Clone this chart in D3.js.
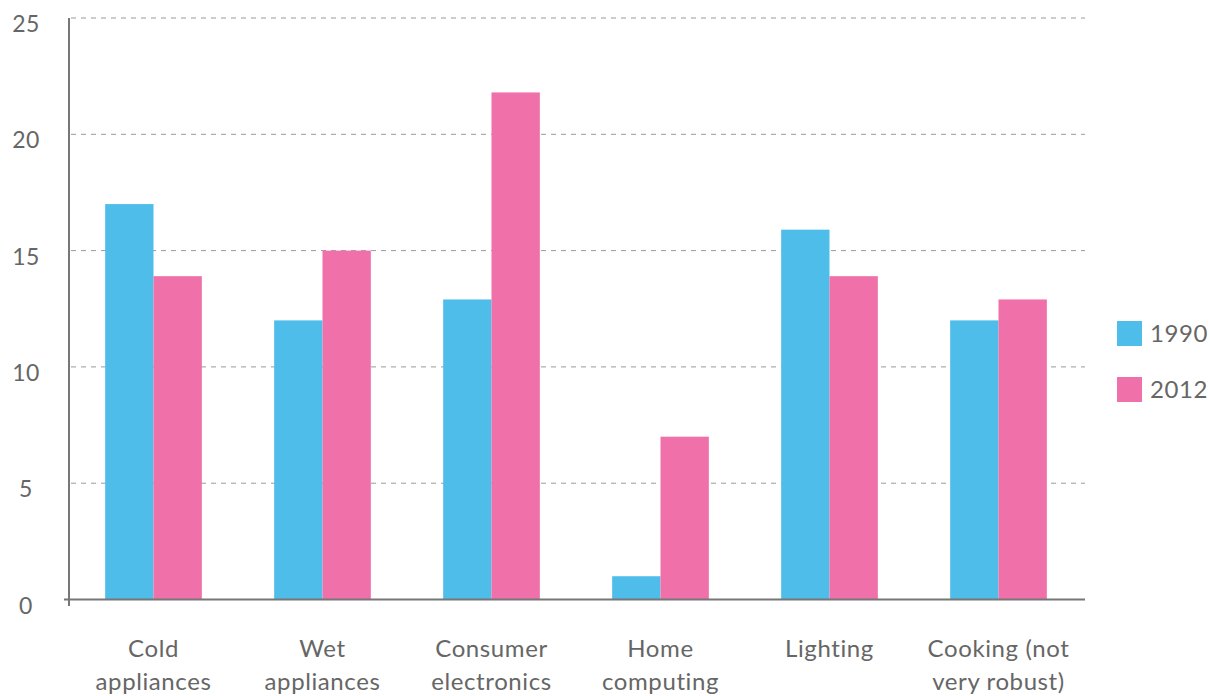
<!DOCTYPE html>
<html><head><meta charset="utf-8">
<script src="https://cdn.jsdelivr.net/npm/d3@7"></script>
<style>body{margin:0;background:#fff;} text{font-family:Lato,"Open Sans",sans-serif;fill:#666;}</style>
</head><body><svg id="c" width="1210" height="696"></svg>
<script>
const categories = [["Cold","appliances"],["Wet","appliances"],["Consumer","electronics"],["Home","computing"],["Lighting"],["Cooking (not","very robust)"]];
const series = ["1990","2012"];
const values1990 = [17, 12, 12.9, 1, 15.9, 12];
const values2012 = [13.9, 15, 21.8, 7, 13.9, 12.9];
const yTicks = [0,5,10,15,20,25];
const colors = ["#4fbdea","#f070a9"];

const svg = d3.select("#c");
const L=69, R=1083, T=18, B=599.5;
const keys = categories.map(c=>c.join(" "));
const x0 = d3.scaleBand().domain(keys).range([L,R]).paddingInner(0.428).paddingOuter(0.214);
const x1 = d3.scaleBand().domain(series).range([0,x0.bandwidth()]);
const y = d3.scaleLinear().domain([0,25]).range([B,T]);
const data = [values1990, values2012];

// grid
svg.append("g").selectAll("line").data(yTicks.filter(d=>d>0)).join("line")
  .attr("x1",L+2).attr("x2",1085).attr("y1",d=>y(d)).attr("y2",d=>y(d))
  .attr("stroke","#9a9a9a").attr("stroke-width",1).attr("stroke-dasharray","5,5");

// bars
const g = svg.append("g");
keys.forEach((k,i)=>{
  series.forEach((s,j)=>{
    g.append("rect").attr("x",x0(k)+x1(s)).attr("width",x1.bandwidth())
      .attr("y",y(data[j][i])).attr("height",B-y(data[j][i])).attr("fill",colors[j]);
  });
});

// axes lines
svg.append("line").attr("x1",L).attr("x2",L).attr("y1",T).attr("y2",606).attr("stroke","#777").attr("stroke-width",2);
svg.append("line").attr("x1",64).attr("x2",1085).attr("y1",B).attr("y2",B).attr("stroke","#777").attr("stroke-width",2);

// y labels
svg.append("g").selectAll("text").data(yTicks).join("text")
  .attr("x",26).attr("y",d=>y(d)+14).attr("text-anchor","middle").attr("font-size",23).attr("letter-spacing",0.5).text(d=>d);

// x labels
keys.forEach((k,i)=>{
  const t = svg.append("text").attr("text-anchor","middle").attr("font-size",24).attr("letter-spacing",0.6)
    .attr("x",x0(k)+x0.bandwidth()/2).attr("y",657);
  categories[i].forEach((line,li)=>{
    t.append("tspan").attr("x",x0(k)+x0.bandwidth()/2).attr("dy",li?33:0).text(line);
  });
});

// legend
series.forEach((s,j)=>{
  const ly = 321 + j*56;
  svg.append("rect").attr("x",1117).attr("y",ly).attr("width",25).attr("height",25).attr("fill",colors[j]);
  svg.append("text").attr("x",1150).attr("y",ly+21).attr("font-size",24).attr("letter-spacing",0.6).text(s);
});
</script></body></html>
